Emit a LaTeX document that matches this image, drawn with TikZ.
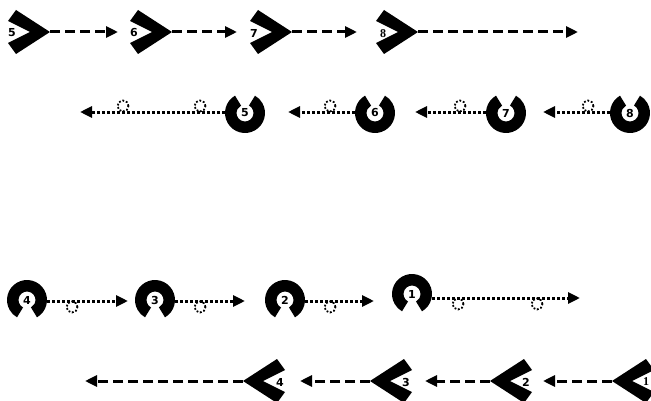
\documentclass[tikz,border=0pt]{standalone}
\usepackage{fontspec}
\setmainfont{DejaVu Sans}
\newfontfamily\serifb{Liberation Serif}
\usetikzlibrary{arrows.meta}
\tikzset{
 chevR/.pic={\fill (0,0)--(-34,22)--(-42,11)--(-20,0)--(-42,-11)--(-34,-22)--cycle;},
 chevL/.pic={\fill (0,0)--(34,22)--(42,11)--(20,0)--(42,-11)--(34,-22)--cycle;},
 hsUp/.pic={\fill (120:20pt) arc[start angle=120,end angle=420,radius=20pt] -- (62:8.5pt) arc[start angle=62,end angle=-242,radius=8.5pt] -- cycle;},
 hsDown/.pic={\fill (-60:20pt) arc[start angle=-60,end angle=240,radius=20pt] -- (242:8.5pt) arc[start angle=242,end angle=-62,radius=8.5pt] -- cycle;},
 lab/.style={font=\fontsize{11}{11}\selectfont\bfseries, inner sep=0pt},
 labs/.style={font=\fontsize{12}{12}\selectfont\serifb\bfseries, inner sep=0pt},
 dashline/.style={line width=3pt, dash pattern=on 10pt off 5pt, -{Triangle[length=12pt,width=11pt]}},
 dotline/.style={line width=3pt, dash pattern=on 3pt off 2pt, -{Triangle[length=12pt,width=11pt]}},
 hump/.style={line width=1.8pt, dash pattern=on 1.8pt off 1.8pt},
}
\begin{document}
\begin{tikzpicture}[x=1pt,y=1pt]
\useasboundingbox (0,0) rectangle (651,400);
% ---------- row 1: chevrons pointing right
\coordinate (t5) at (50,368);  \coordinate (e5) at (118,368);
\coordinate (t6) at (172,368); \coordinate (e6) at (237,368);
\coordinate (t7) at (292,368); \coordinate (e7) at (357,368);
\coordinate (t8) at (418,368); \coordinate (e8) at (578,368);
\pic at (t5) {chevR}; \pic at (t6) {chevR}; \pic at (t7) {chevR}; \pic at (t8) {chevR};
\node[lab] (l5) at (12,367) {5};
\node[lab] (l6) at (134,367) {6};
\node[lab] (l7) at (254,367) {7};
\node[labs] (l8) at (383,366) {8};
\draw[dashline] (t5) -- (e5);
\draw[dashline] (t6) -- (e6);
\draw[dashline] (t7) -- (e7);
\draw[dashline] (t8) -- (e8);
% ---------- row 2: horseshoes opening up, arrows to the left
\coordinate (h5) at (245,287); \coordinate (s5) at (225,288); \coordinate (f5) at (80,288);
\coordinate (h6) at (375,287); \coordinate (s6) at (355,288); \coordinate (f6) at (288,288);
\coordinate (h7) at (506,287); \coordinate (s7) at (486,288); \coordinate (f7) at (415,288);
\coordinate (h8) at (630,287); \coordinate (s8) at (610,288); \coordinate (f8) at (543,288);
\pic at (h5) {hsUp}; \pic at (h6) {hsUp}; \pic at (h7) {hsUp}; \pic at (h8) {hsUp};
\node[lab] (m5) at (h5) {5};
\node[lab] (m6) at (h6) {6};
\node[lab] (m7) at (h7) {7};
\node[lab] (m8) at (h8) {8};
\draw[dotline] (s5) -- (f5);
\draw[dotline] (s6) -- (f6);
\draw[dotline] (s7) -- (f7);
\draw[dotline] (s8) -- (f8);
\draw[hump] (123,294) circle[radius=5.5pt];
\draw[hump] (200,294) circle[radius=5.5pt];
\draw[hump] (330,294) circle[radius=5.5pt];
\draw[hump] (460,294) circle[radius=5.5pt];
\draw[hump] (588,294) circle[radius=5.5pt];
% ---------- row 3: horseshoes opening down, arrows to the right
\coordinate (h4) at (27,100);  \coordinate (s4) at (47,99);  \coordinate (f4) at (128,99);
\coordinate (h3) at (155,100); \coordinate (s3) at (175,99); \coordinate (f3) at (245,99);
\coordinate (h2) at (285,100); \coordinate (s2) at (305,99); \coordinate (f2) at (374,99);
\coordinate (h1) at (412,106); \coordinate (s1) at (432,102); \coordinate (f1) at (580,102);
\pic at (h4) {hsDown}; \pic at (h3) {hsDown}; \pic at (h2) {hsDown}; \pic at (h1) {hsDown};
\node[lab] (m4) at (h4) {4};
\node[lab] (m3) at (h3) {3};
\node[lab] (m2) at (h2) {2};
\node[lab] (m1) at (h1) {1};
\draw[dotline] (s4) -- (f4);
\draw[dotline] (s3) -- (f3);
\draw[dotline] (s2) -- (f2);
\draw[dotline] (s1) -- (f1);
\draw[hump] (72,93) circle[radius=5.5pt];
\draw[hump] (200,93) circle[radius=5.5pt];
\draw[hump] (330,93) circle[radius=5.5pt];
\draw[hump] (458,96) circle[radius=5.5pt];
\draw[hump] (537,96) circle[radius=5.5pt];
% ---------- row 4: chevrons pointing left
\coordinate (u4) at (243,19); \coordinate (g4) at (85,19);
\coordinate (u3) at (370,19); \coordinate (g3) at (300,19);
\coordinate (u2) at (490,19); \coordinate (g2) at (425,19);
\coordinate (u1) at (612,19); \coordinate (g1) at (543,19);
\pic at (u4) {chevL}; \pic at (u3) {chevL}; \pic at (u2) {chevL}; \pic at (u1) {chevL};
\node[lab] (n4) at (280,18) {4};
\node[lab] (n3) at (406,18) {3};
\node[lab] (n2) at (526,18) {2};
\node[labs] (n1) at (646,18) {1};
\draw[dashline] (u4) -- (g4);
\draw[dashline] (u3) -- (g3);
\draw[dashline] (u2) -- (g2);
\draw[dashline] (u1) -- (g1);
\end{tikzpicture}
\end{document}
